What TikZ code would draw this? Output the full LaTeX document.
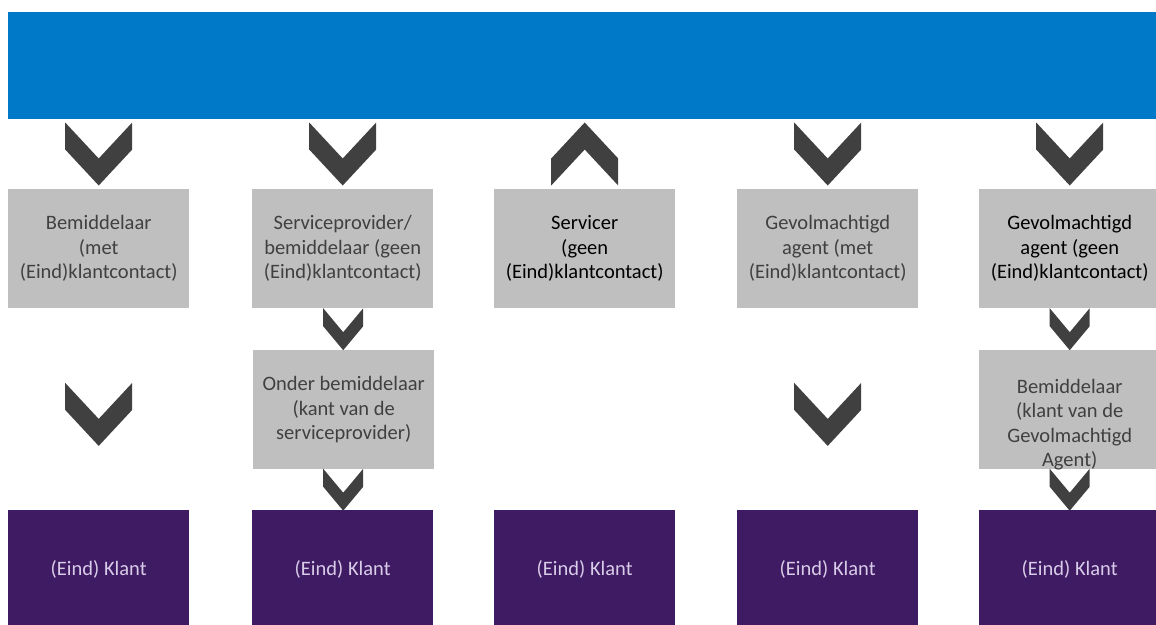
\documentclass[tikz,border=0pt]{standalone}
\usepackage{fontspec}
\setmainfont{Carlito}
\usetikzlibrary{calc}

\definecolor{barblue}{HTML}{0079C9}
\definecolor{boxgrey}{HTML}{BFBFBF}
\definecolor{klantpurple}{HTML}{3F1B64}
\definecolor{klanttext}{HTML}{D9CCE8}
\definecolor{chevgrey}{HTML}{404040}
\definecolor{txtgrey}{HTML}{404040}

\tikzset{
  pics/chevdown/.style n args={3}{code={
      \fill[chevgrey] (-#1/2,-#2/2) -- (0,-#2/2+#3) -- (#1/2,-#2/2)
        -- (#1/2,#2/2-#3) -- (0,#2/2) -- (-#1/2,#2/2-#3) -- cycle;
    }},
}

\begin{document}
\begin{tikzpicture}[
    x=1pt, y=-1pt,
    every node/.style={font=\fontsize{20.5}{24.5}\selectfont, align=center, inner sep=0pt},
    greybox/.style={fill=boxgrey, text=txtgrey, minimum width=181pt, minimum height=119pt, anchor=north west},
    klantbox/.style={fill=klantpurple, text=klanttext, minimum width=181pt, minimum height=119pt, anchor=north west},
  ]
  \useasboundingbox (0,0) rectangle (1156,624);
  \clip (0,0) rectangle (1156,624);

  \node[fill=barblue, minimum width=1152pt, minimum height=107pt, anchor=north west] (bar) at (8,12) {};

  % first row
  \node[greybox] (bem) at (8,189) {Bemiddelaar\\(met\\(Eind)klantcontact)};
  \node[greybox] (sp) at (252,189) {Serviceprovider/\\bemiddelaar (geen\\(Eind)klantcontact)};
  \node[greybox, text=black] (srv) at (494,189) {Servicer\\(geen\\(Eind)klantcontact)};
  \node[greybox] (gam) at (737,189) {Gevolmachtigd\\agent (met\\(Eind)klantcontact)};
  \node[greybox, text=black] (gag) at (979,189) {Gevolmachtigd\\agent (geen\\(Eind)klantcontact)};

  % second row
  \node[greybox] (ond) at (253,350) {Onder bemiddelaar\\(kant van de\\serviceprovider)};
  \node[greybox] (bem2) at (979,350) {};
  \node[text=txtgrey] (bem2txt) at ([yshift=-15pt]bem2.center) {Bemiddelaar\\(klant van de\\Gevolmachtigd\\Agent)};

  % klanten
  \node[klantbox] (klant1) at (8,510) {(Eind) Klant};
  \node[klantbox] (klant2) at (252,510) {(Eind) Klant};
  \node[klantbox] (klant3) at (494,510) {(Eind) Klant};
  \node[klantbox] (klant4) at (737,510) {(Eind) Klant};
  \node[klantbox] (klant5) at (979,510) {(Eind) Klant};

  % chevrons
  \foreach \k in {bem,sp,gam,gag}
    \pic at ([yshift=35pt]\k.north) {chevdown={67}{63}{36}};
  \pic[rotate=180] at ([yshift=35pt]srv.north) {chevdown={67}{63}{36}};
  \foreach \k in {bem,gam}
    \pic at ([yshift=-106pt]\k.south) {chevdown={67}{63}{36}};
  \pic at ($(sp.south)!0.5!(ond.north)$) {chevdown={40}{42}{24}};
  \pic at ($(gag.south)!0.5!(bem2.north)$) {chevdown={40}{42}{24}};
  \pic at ($(ond.south)!0.5!(klant2.north)$) {chevdown={40}{42}{24}};
  \pic at ($(bem2.south)!0.5!(klant5.north)$) {chevdown={40}{42}{24}};
\end{tikzpicture}
\end{document}
